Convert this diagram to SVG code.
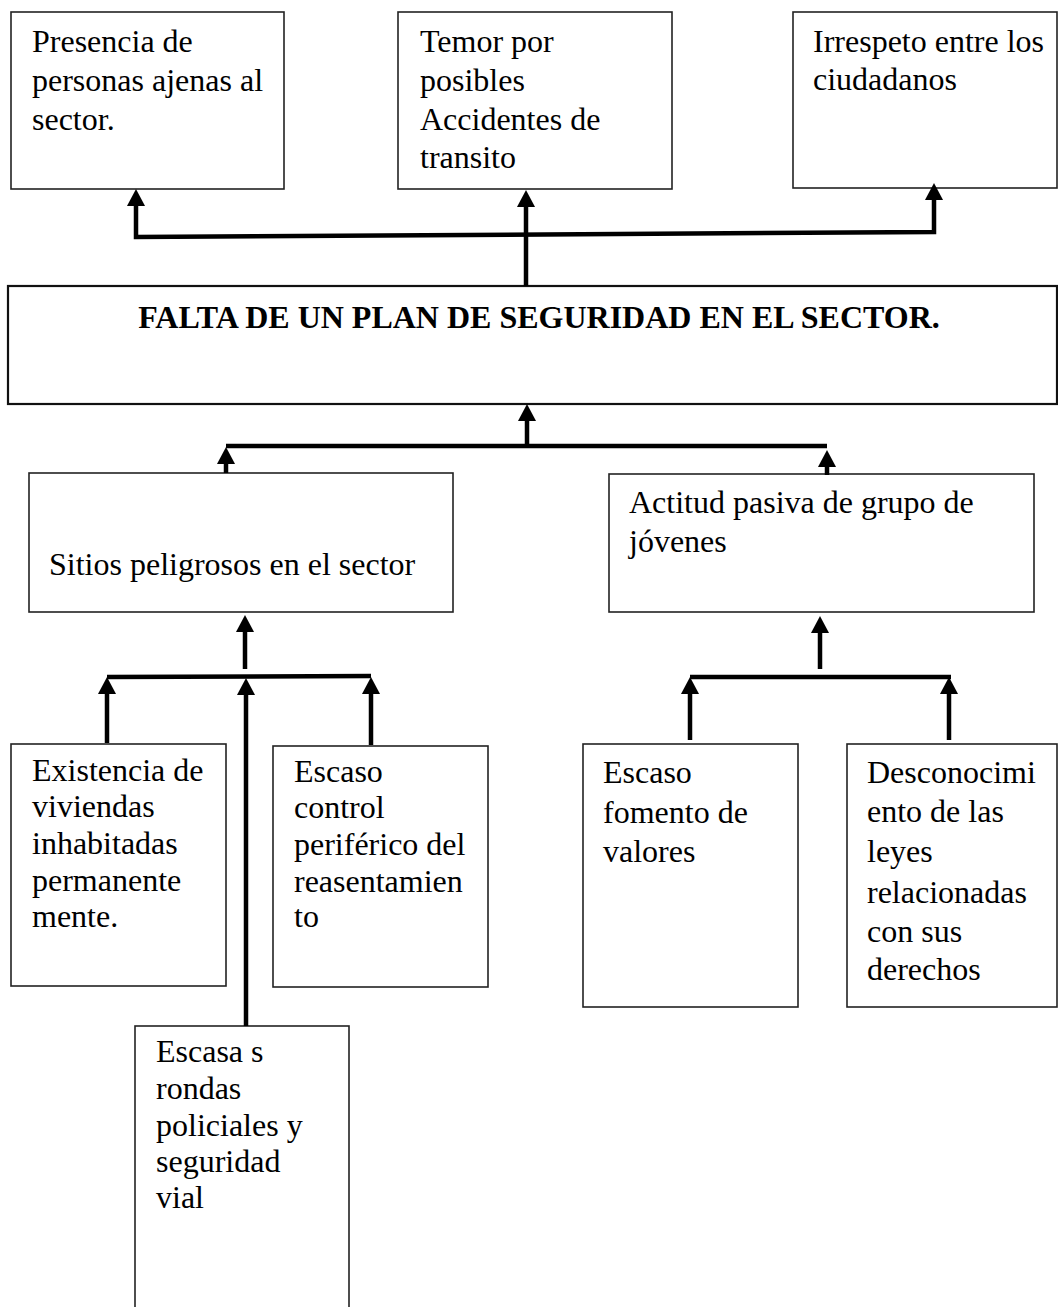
<svg xmlns="http://www.w3.org/2000/svg" width="1058" height="1307" viewBox="0 0 1058 1307">
<style>
.box{fill:#fff;stroke:#222;stroke-width:1.6}
.main{fill:#fff;stroke:#111;stroke-width:2.2}
.t{font-family:"Liberation Serif","Times New Roman",serif;font-size:32px;fill:#000}
.tb{font-family:"Liberation Serif","Times New Roman",serif;font-size:32px;font-weight:bold;fill:#000}
.c{fill:none;stroke:#000;stroke-width:4.5}
</style>
<defs>
<marker id="ah" viewBox="0 0 17 18" refX="0" refY="9" markerWidth="17" markerHeight="18" markerUnits="userSpaceOnUse" orient="auto-start-reverse">
<path d="M0,0 L17,9 L0,18 Z" fill="#000"/>
</marker>
</defs>
<rect width="1058" height="1307" fill="#fff"/>

<g id="n-presencia">
<rect class="box" x="11" y="12" width="273" height="177"/>
<text class="t" x="32" y="52">Presencia de</text>
<text class="t" x="32" y="91">personas ajenas al</text>
<text class="t" x="32" y="130">sector.</text>
</g>
<g id="n-temor">
<rect class="box" x="398" y="12" width="274" height="177"/>
<text class="t" x="420" y="52">Temor por</text>
<text class="t" x="420" y="91">posibles</text>
<text class="t" x="420" y="130">Accidentes de</text>
<text class="t" x="420" y="168">transito</text>
</g>
<g id="n-irrespeto">
<rect class="box" x="793" y="12" width="264" height="176"/>
<text class="t" x="813" y="52">Irrespeto entre los</text>
<text class="t" x="813" y="90">ciudadanos</text>
</g>
<g id="n-main">
<rect class="main" x="8" y="286" width="1049" height="118"/>
<text class="tb" x="539" y="328" text-anchor="middle">FALTA DE UN PLAN DE SEGURIDAD EN EL SECTOR.</text>
</g>
<g id="n-sitios">
<rect class="box" x="29" y="473" width="424" height="139"/>
<text class="t" x="49" y="575">Sitios peligrosos en el sector</text>
</g>
<g id="n-actitud">
<rect class="box" x="609" y="474" width="425" height="138"/>
<text class="t" x="629" y="513">Actitud pasiva de grupo de</text>
<text class="t" x="629" y="552">jóvenes</text>
</g>
<g id="n-existencia">
<rect class="box" x="11" y="744" width="215" height="242"/>
<text class="t" x="32" y="781">Existencia de</text>
<text class="t" x="32" y="817">viviendas</text>
<text class="t" x="32" y="854">inhabitadas</text>
<text class="t" x="32" y="891">permanente</text>
<text class="t" x="32" y="927">mente.</text>
</g>
<g id="n-control">
<rect class="box" x="273" y="746" width="215" height="241"/>
<text class="t" x="294" y="782">Escaso</text>
<text class="t" x="294" y="818">control</text>
<text class="t" x="294" y="855">periférico del</text>
<text class="t" x="294" y="892">reasentamien</text>
<text class="t" x="294" y="927">to</text>
</g>
<g id="n-rondas">
<rect class="box" x="135" y="1026" width="214" height="300"/>
<text class="t" x="156" y="1062">Escasa s</text>
<text class="t" x="156" y="1099">rondas</text>
<text class="t" x="156" y="1136">policiales y</text>
<text class="t" x="156" y="1172">seguridad</text>
<text class="t" x="156" y="1208">vial</text>
</g>
<g id="n-fomento">
<rect class="box" x="583" y="744" width="215" height="263"/>
<text class="t" x="603" y="783">Escaso</text>
<text class="t" x="603" y="823">fomento de</text>
<text class="t" x="603" y="862">valores</text>
</g>
<g id="n-desconocimiento">
<rect class="box" x="847" y="744" width="210" height="263"/>
<text class="t" x="867" y="783">Desconocimi</text>
<text class="t" x="867" y="822">ento de las</text>
<text class="t" x="867" y="862">leyes</text>
<text class="t" x="867" y="903">relacionadas</text>
<text class="t" x="867" y="942">con sus</text>
<text class="t" x="867" y="980">derechos</text>
</g>

<g id="connectors">
<path class="c" d="M136,206 L136,237 L934,232 L934,200" marker-start="url(#ah)" marker-end="url(#ah)"/>
<path class="c" d="M526,286 L526,207" marker-end="url(#ah)"/>

<path class="c" d="M527,446 L527,421" marker-end="url(#ah)"/>
<path class="c" d="M226,446 L827,446"/>
<path class="c" d="M226,473 L226,464" marker-end="url(#ah)"/>
<path class="c" d="M827,475 L827,467" marker-end="url(#ah)"/>

<path class="c" d="M245,669 L245,632" marker-end="url(#ah)"/>
<path class="c" d="M107,677 L371,676"/>
<path class="c" d="M107,743 L107,694" marker-end="url(#ah)"/>
<path class="c" d="M246,1026 L246,695" marker-end="url(#ah)"/>
<path class="c" d="M371,745 L371,694" marker-end="url(#ah)"/>

<path class="c" d="M820,669 L820,633" marker-end="url(#ah)"/>
<path class="c" d="M690,677 L951,677"/>
<path class="c" d="M690,740 L690,694" marker-end="url(#ah)"/>
<path class="c" d="M949,740 L949,694" marker-end="url(#ah)"/>
</g>
</svg>
